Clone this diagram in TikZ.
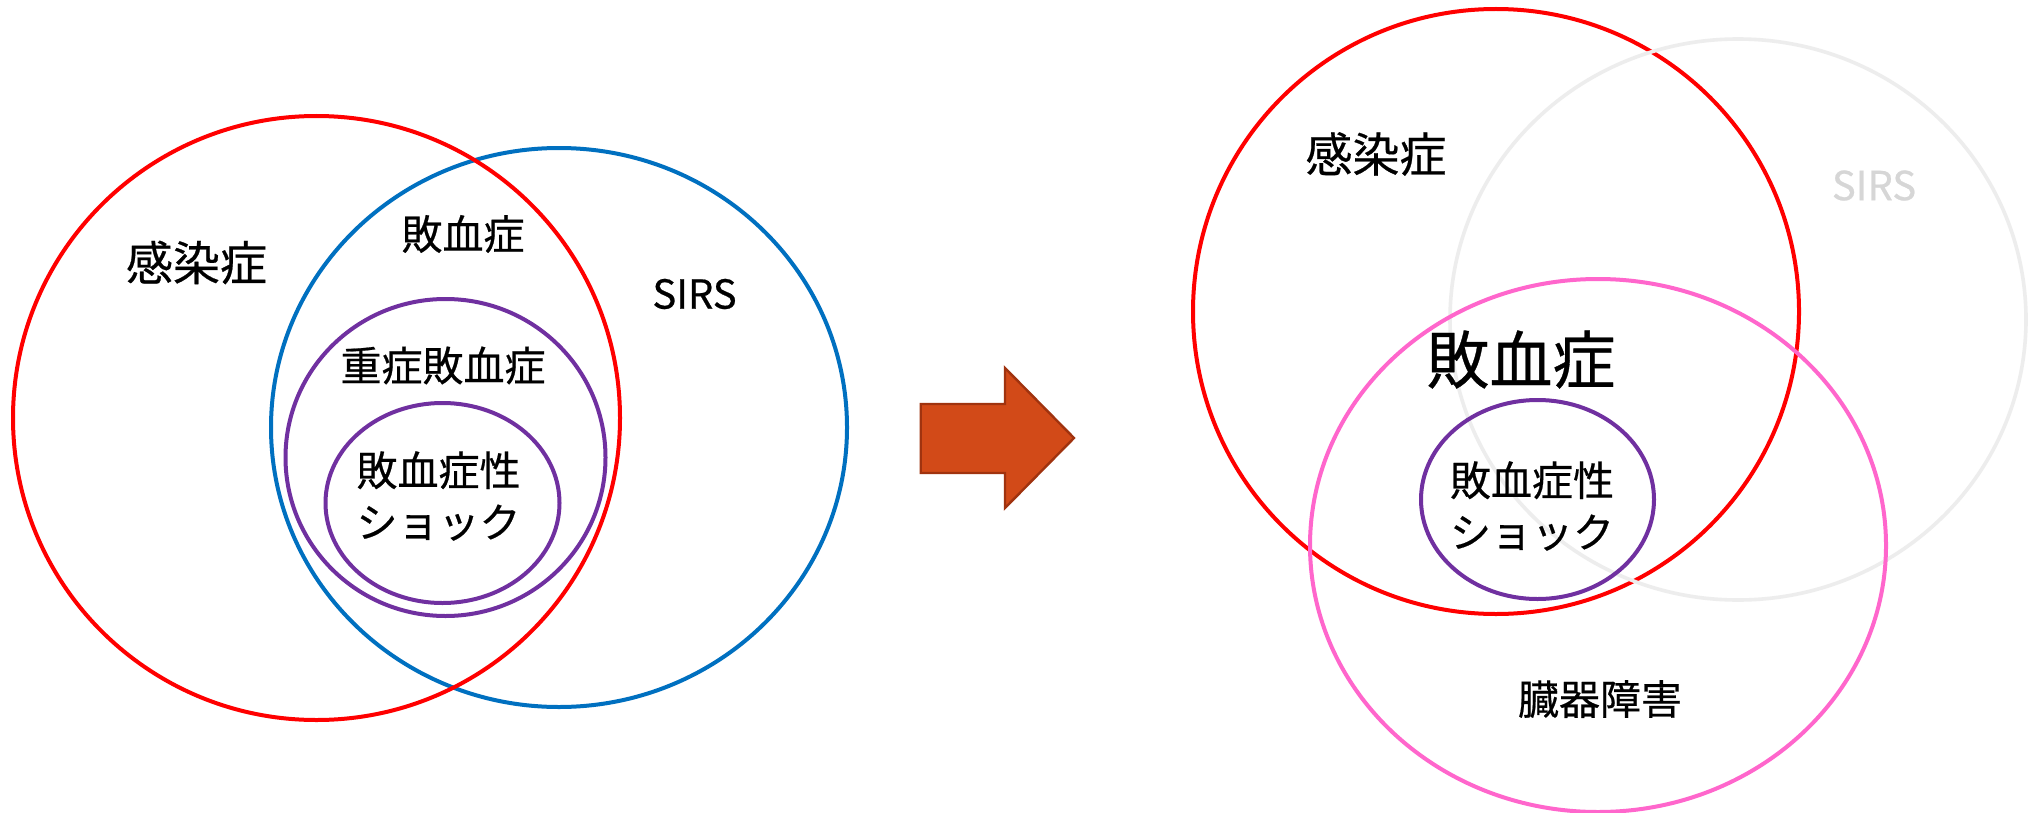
\documentclass[tikz,border=0pt]{standalone}
\usepackage{fontspec}
\setmainfont{Noto Sans CJK JP}[FakeBold=0.5]
\definecolor{vred}{HTML}{FF0000}
\definecolor{vblue}{HTML}{0070C0}
\definecolor{vpurple}{HTML}{7030A0}
\definecolor{vpink}{HTML}{FF66CC}
\definecolor{vgray}{HTML}{EDEDED}
\definecolor{sirsgray}{HTML}{D6D6D6}
\definecolor{arrowfill}{HTML}{D24A18}
\definecolor{arrowedge}{HTML}{A0330F}
\begin{document}
\begin{tikzpicture}[x=0.5pt,y=-0.5pt,
  venn/.style={line width=2pt},
  lbl/.style={inner sep=0pt, text=black, align=center, font=\fontsize{20.5}{25.9}\selectfont},
  biglbl/.style={lbl, font=\fontsize{23.5}{28}\selectfont},
  hugelbl/.style={lbl, font=\fontsize{31.5}{36}\selectfont},
  sirslbl/.style={lbl, font=\fontsize{20}{24}\selectfont}]
\useasboundingbox (0,0) rectangle (2028,813);
\fill[white] (0,0) rectangle (2028,813);
% ---- left diagram ----
\draw[venn, vblue] (559,427.5) ellipse [x radius=288, y radius=279.5];
\draw[venn, vred] (316.5,418) ellipse [x radius=303.5, y radius=302];
\draw[venn, vpurple] (445.5,457.5) ellipse [x radius=160, y radius=158.5];
\draw[venn, vpurple] (442.5,503) ellipse [x radius=117, y radius=100];
\node[biglbl] (kansenL) at (196.5,262.5) {感染症};
\node[lbl] (haiketsuL) at (463,234) {敗血症};
\node[sirslbl] (sirsL) at (694.5,294) {SIRS};
\node[lbl] (jushoL) at (443,365.5) {重症敗血症};
\node[lbl] (shockL) at (438.5,496) {敗血症性\\ショック};
% ---- arrow ----
\filldraw[fill=arrowfill, draw=arrowedge, line width=1.2pt, line join=miter]
  (920.7,404) -- (1005,404) -- (1005,368) -- (1074,438) -- (1005,508) -- (1005,473) -- (920.7,473) -- cycle;
% ---- right diagram ----
\draw[venn, vred] (1496,311.5) ellipse [x radius=303, y radius=302.5];
\draw[venn, vgray, line width=1.8pt] (1738,319.5) ellipse [x radius=288, y radius=280.5];
\draw[venn, vpink] (1598,545.5) ellipse [x radius=288, y radius=266.5];
\draw[venn, vpurple] (1537.5,499.5) ellipse [x radius=116.5, y radius=99.5];
\node[biglbl] (kansenR) at (1376,154) {感染症};
\node[sirslbl, text=sirsgray] (sirsR) at (1874,185.5) {SIRS};
\node[hugelbl] (haiketsuR) at (1521,359.5) {敗血症};
\node[lbl] (shockR) at (1532,506) {敗血症性\\ショック};
\node[lbl] (zokiR) at (1600,699) {臓器障害};
\end{tikzpicture}
\end{document}
